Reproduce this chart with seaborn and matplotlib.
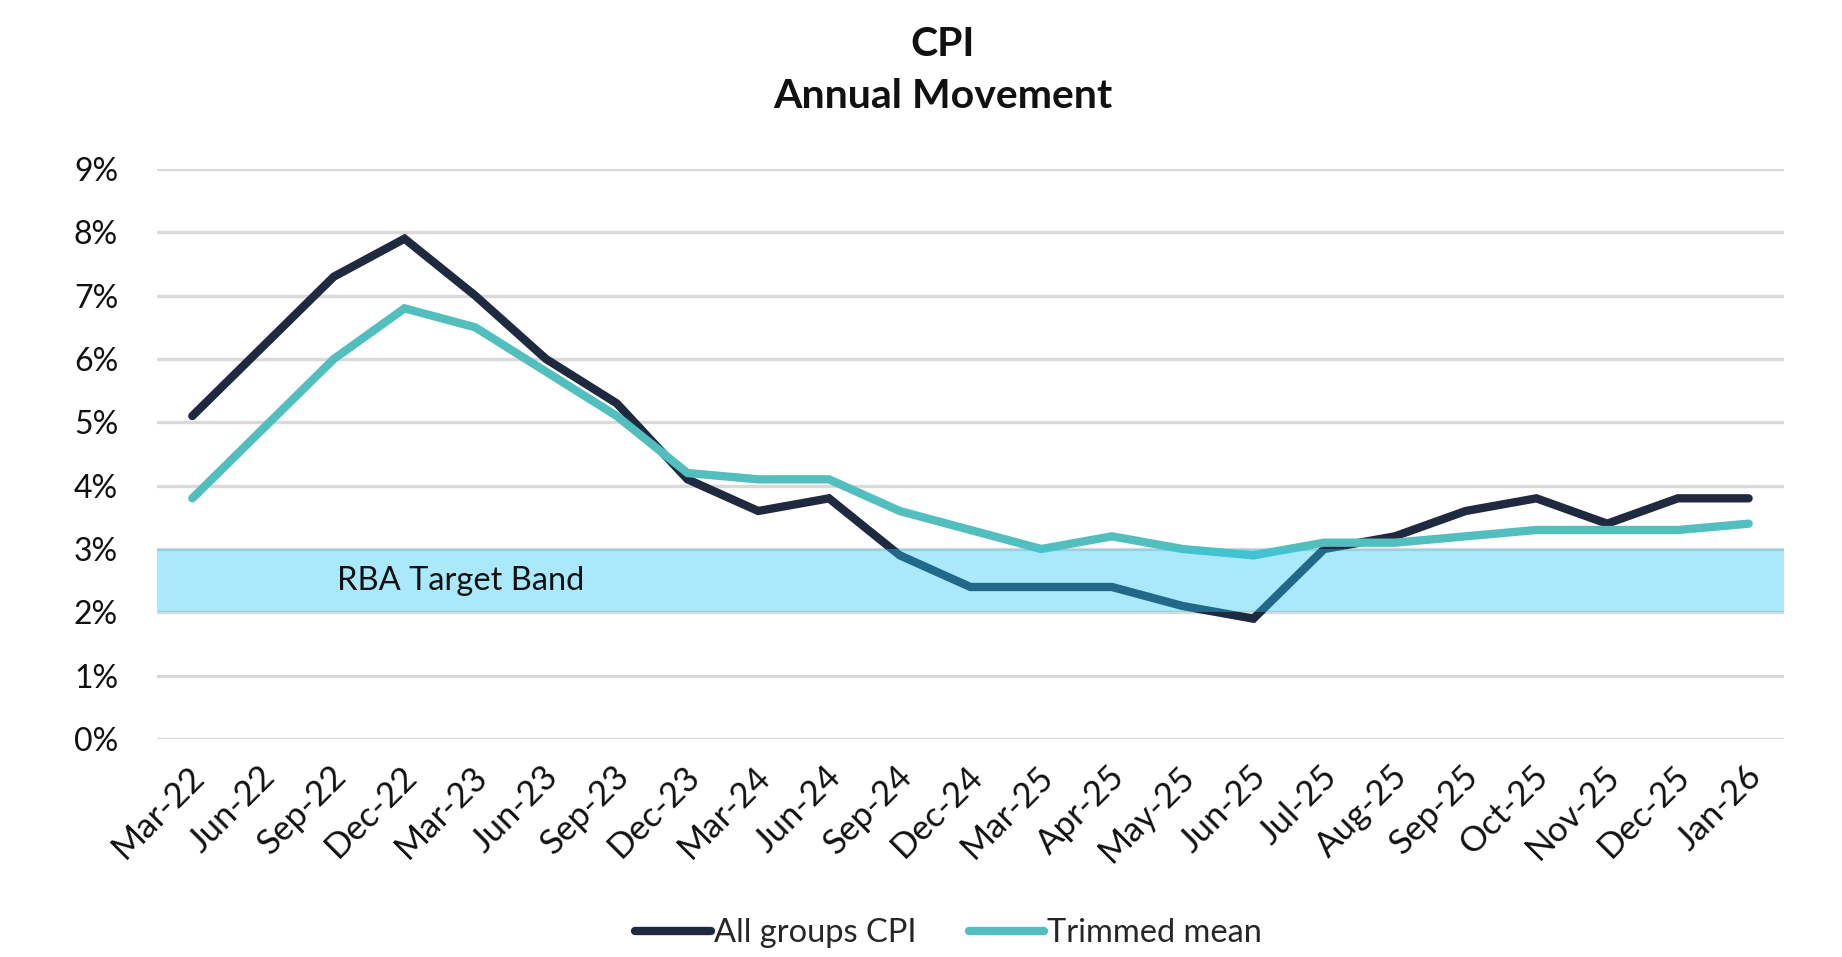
import matplotlib
matplotlib.use("Agg")
import matplotlib.pyplot as plt
import matplotlib.transforms as mtransforms
from matplotlib.ticker import FuncFormatter, MultipleLocator
from matplotlib.lines import Line2D
import pandas as pd
import seaborn as sns

periods = ["Mar-22", "Jun-22", "Sep-22", "Dec-22", "Mar-23", "Jun-23", "Sep-23",
           "Dec-23", "Mar-24", "Jun-24", "Sep-24", "Dec-24", "Mar-25", "Apr-25",
           "May-25", "Jun-25", "Jul-25", "Aug-25", "Sep-25", "Oct-25", "Nov-25",
           "Dec-25", "Jan-26"]
all_groups_cpi = [5.1, 6.2, 7.3, 7.9, 7.0, 6.0, 5.3, 4.1, 3.6, 3.8, 2.9, 2.4,
                  2.4, 2.4, 2.1, 1.9, 3.0, 3.2, 3.6, 3.8, 3.4, 3.8, 3.8]
trimmed_mean = [3.8, 4.9, 6.0, 6.8, 6.5, 5.8, 5.1, 4.2, 4.1, 4.1, 3.6, 3.3,
                3.0, 3.2, 3.0, 2.9, 3.1, 3.1, 3.2, 3.3, 3.3, 3.3, 3.4]
series_names = ["All groups CPI", "Trimmed mean"]
series_colors = ["#1F2A40", "#52BFBE"]
band_low, band_high = 2.0, 3.0

df = pd.DataFrame({
    "period": periods * 2,
    "value": all_groups_cpi + trimmed_mean,
    "series": [series_names[0]] * len(periods) + [series_names[1]] * len(periods),
})

sns.set_theme(style="white")
plt.rcParams["font.family"] = ["Lato", "DejaVu Sans"]

fig = plt.figure(figsize=(18.42, 9.57), dpi=100)
ax = fig.add_axes([0.0852, 0.2278, 0.8833, 0.5956])

sns.lineplot(data=df, x="period", y="value", hue="series", sort=False,
             palette=dict(zip(series_names, series_colors)), linewidth=6,
             legend=False, ax=ax, zorder=3)
for ln in ax.get_lines():
    ln.set_solid_capstyle("round")
    ln.set_solid_joinstyle("miter")

# target band sits over the lines, semi-transparent
ax.axhspan(band_low, band_high, color="#28CAF7", alpha=0.4, lw=0, zorder=4)
ax.text(2.05, (band_low + band_high) / 2, "RBA Target Band", fontsize=23.5,
        va="center", ha="left", color="#111111", zorder=5)

ax.set_xlim(-0.5, len(periods) - 0.5)
ax.set_ylim(0, 9)
ax.yaxis.set_major_locator(MultipleLocator(1))
ax.yaxis.set_major_formatter(FuncFormatter(lambda v, p: f"{v:.0f}%"))
ax.grid(axis="y", color="#D9D9D9", linewidth=2.4, zorder=0)
ax.set_axisbelow(True)
for s in ax.spines.values():
    s.set_visible(False)
ax.set_xlabel("")
ax.set_ylabel("")
ax.tick_params(axis="y", labelsize=23, pad=28, length=0, labelcolor="#111111")
ax.tick_params(axis="x", labelsize=25, length=0, pad=15, labelcolor="#111111")
shift = mtransforms.ScaledTranslation(-0.04, 0, fig.dpi_scale_trans)
for lab in ax.get_xticklabels():
    lab.set_rotation(45)
    lab.set_ha("right")
    lab.set_rotation_mode("anchor")
    lab.set_transform(lab.get_transform() + shift)

fig.text(0.512, 0.953, "CPI", ha="center", va="center", fontsize=29.5,
         fontweight="bold", color="#111111")
fig.text(0.512, 0.899, "Annual Movement", ha="center", va="center", fontsize=29.5,
         fontweight="bold", color="#111111")

handles = [Line2D([0], [0], color=c, lw=6, solid_capstyle="round")
           for c in series_colors]
fig.legend(handles, series_names, loc="center", bbox_to_anchor=(0.515, 0.025),
           ncol=2, frameon=False, fontsize=23.5, handlelength=2.3,
           handletextpad=0.1, columnspacing=1.6)

plt.savefig("out.png", dpi=100)
plt.close(fig)
